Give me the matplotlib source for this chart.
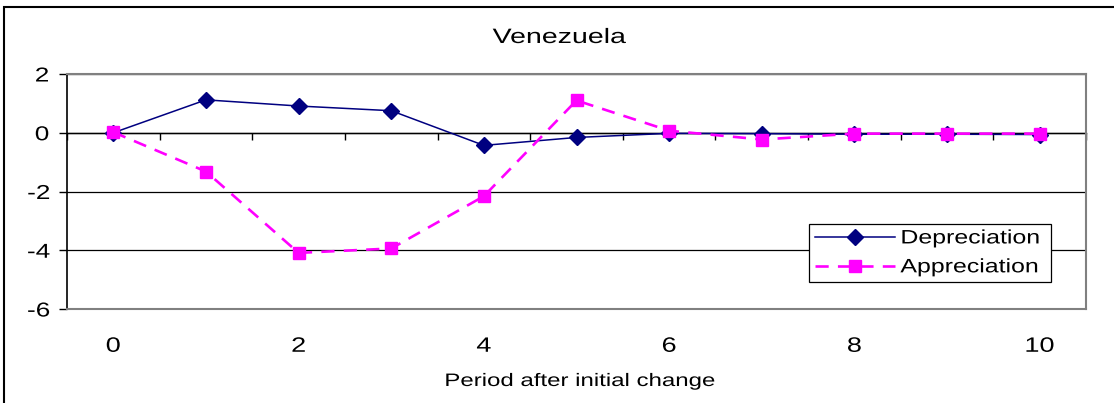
import numpy as np
import matplotlib
matplotlib.use("Agg")
import matplotlib.pyplot as plt
from matplotlib import patheffects
from matplotlib.transforms import Affine2D
from matplotlib.patches import Rectangle

plt.rcParams['font.family'] = ['Liberation Sans', 'DejaVu Sans']
plt.rcParams['axes.unicode_minus'] = False

periods = np.arange(0, 11)
depreciation = [0.0, 1.12, 0.91, 0.75, -0.43, -0.16, -0.02, -0.03, -0.05, -0.05, -0.06]
appreciation = [0.02, -1.32, -4.09, -3.94, -2.16, 1.10, 0.07, -0.23, -0.03, -0.03, -0.03]
yticks = [-6, -4, -2, 0, 2]
xticks = [0, 2, 4, 6, 8, 10]

W, H = 1114, 403


class Stretch(patheffects.AbstractPathEffect):
    # widen glyphs horizontally (the original chart was stretched)
    def __init__(self, sx=1.3, about='center'):
        super().__init__()
        self.sx = sx
        self.about = about

    def draw_path(self, renderer, gc, tpath, affine, rgbFace=None):
        cx = 0.0
        if self.about == 'center':
            ext = tpath.get_extents()
            cx = (ext.x0 + ext.x1) / 2
        st = Affine2D().translate(-cx, 0).scale(self.sx, 1).translate(cx, 0)
        renderer.draw_path(gc, tpath, st + affine, rgbFace)


fig = plt.figure(figsize=(W / 100, H / 100), dpi=100)
ax = fig.add_axes([67 / W, 94 / H, 1019 / W, 235 / H])

ax.plot(periods, depreciation, color='#000080', lw=1.1, marker='D', ms=8,
        label='Depreciation', zorder=3)
ax.plot(periods, appreciation, color='#FF00FF', lw=1.9, ls=(0, (5, 3.5)),
        marker='s', ms=8.5, label='Appreciation', zorder=4)

ax.set_xlim(-0.5, 10.5)
ax.set_ylim(-6, 2)
ax.set_yticks(yticks)
ax.set_xticks(xticks)
ax.grid(axis='y', color='black', lw=0.9)
ax.set_axisbelow(True)

for s in ['top', 'right', 'bottom']:
    ax.spines[s].set_color('#808080')
    ax.spines[s].set_linewidth(1.5)
ax.spines['left'].set_color('black')
ax.spines['left'].set_linewidth(1.2)

ax.tick_params(axis='y', direction='out', length=6, width=1, pad=8, labelsize=14.5)
ax.tick_params(axis='x', length=0, pad=20, labelsize=15)

# category axis crossing at zero, ticks between categories
sec = ax.secondary_xaxis(0.75)
sec.set_xticks(np.append(periods - 0.5, periods[-1] + 0.5))
sec.tick_params(axis='x', direction='in', length=5, width=1,
                labeltop=False, labelbottom=False)
sec.spines['top'].set_color('black')
sec.spines['top'].set_linewidth(1.0)
sec.spines['bottom'].set_visible(False)

for lab in ax.get_xticklabels() + ax.get_yticklabels():
    lab.set_path_effects([Stretch(1.3)])

leg = ax.legend(loc='upper left', bbox_to_anchor=(809 / W, 1 - 224 / H - 66 / H, 242 / W, 66 / H),
                bbox_transform=fig.transFigure, mode='expand', borderaxespad=0,
                fontsize=14, borderpad=0.3, labelspacing=0.58, handlelength=4.1,
                handletextpad=0.3, fancybox=False, framealpha=1, edgecolor='black')
leg.get_frame().set_linewidth(0.9)
for t in leg.get_texts():
    t.set_path_effects([Stretch(1.28, about='left')])

t = fig.text(559.5 / W, 1 - 43 / H, 'Venezuela', ha='center', va='baseline', fontsize=15)
t.set_path_effects([Stretch(1.37)])
t = fig.text(580 / W, 1 - 386 / H, 'Period after initial change', ha='center',
             va='baseline', fontsize=13)
t.set_path_effects([Stretch(1.33)])

# outer chart border (runs off the right and bottom of the picture)
fig.add_artist(Rectangle((4 / W, -0.1), 1.2, 1.1 - 7 / H, transform=fig.transFigure,
                         fill=False, edgecolor='black', lw=1.5, clip_on=False))

fig.savefig('out.png', dpi=100)
